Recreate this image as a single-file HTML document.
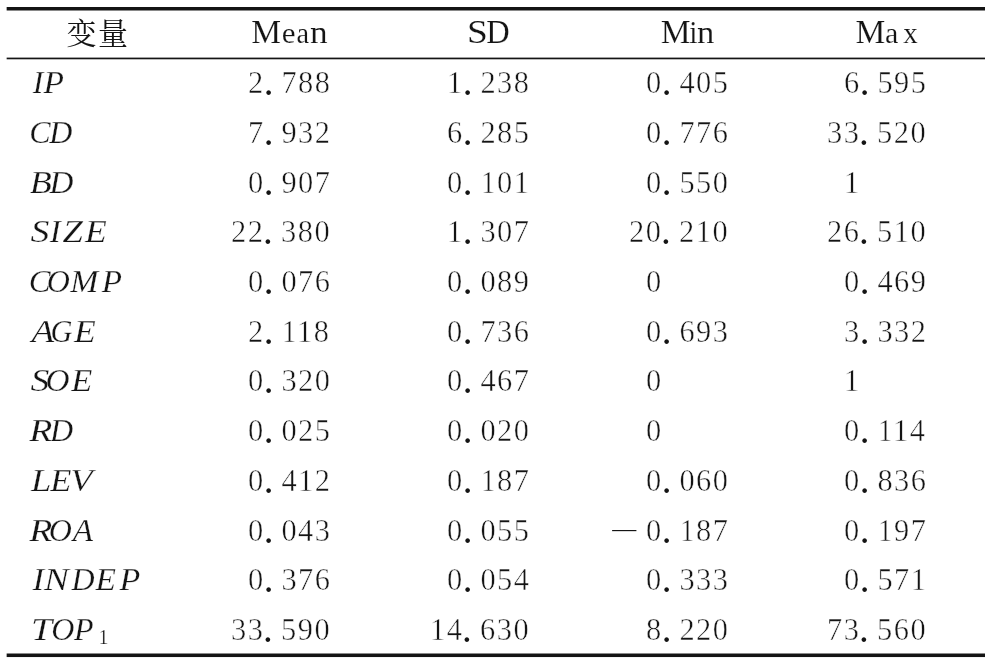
<!DOCTYPE html>
<html lang="zh"><head><meta charset="utf-8"><title>Descriptive statistics</title>
<style>
html,body{margin:0;padding:0;background:#fff;}
body{width:992px;height:672px;position:relative;overflow:hidden;font-family:"Liberation Serif",serif;color:#141414;}
.t{position:absolute;white-space:nowrap;line-height:1;font-size:32px;}
.t span{display:inline-block;}
.v{font-style:italic;-webkit-text-stroke:0.25px #fff;}
.h{-webkit-text-stroke:0.15px #fff;}
.n{letter-spacing:1.58px;transform:scaleX(0.95);transform-origin:0 0;-webkit-text-stroke:0.5px #fff;}
.n span{width:17.58px;letter-spacing:0;text-indent:-0.2px;-webkit-text-stroke:0;transform:translateY(1.2px) scale(1.281);transform-origin:3.8px 25.5px;}
.h{font-size:33.5px;}
.d{font-size:24px;}
.sr{position:absolute;left:70px;top:20px;width:1px;height:1px;overflow:hidden;font-size:1px;line-height:1px;color:transparent;}
.sub{font-size:20px;font-style:normal;position:relative;top:4px;}
svg{position:absolute;left:0;top:0;}
#w{position:absolute;left:0;top:0;width:992px;height:672px;will-change:transform;}
</style></head>
<body>
<div id="w">
<svg width="992" height="672" viewBox="0 0 992 672" aria-hidden="true"><rect x="6.65" y="7" width="978.35" height="3.5" fill="#141414"/><rect x="6.65" y="57.6" width="978.35" height="1.7" fill="#141414"/><rect x="6.65" y="653.5" width="978.35" height="3.55" fill="#141414"/></svg>
<svg width="992" height="672" viewBox="0 0 992 672" role="img" aria-label="变量"><text x="66.5" y="44" font-size="30" letter-spacing="1.6" fill="#141414" font-family="&quot;Liberation Serif&quot;, &quot;Noto Serif CJK SC&quot;, serif">变量</text></svg><span class="sr">变量</span>
<span class="t h" style="left:251.24px;top:14.91px"><span>M</span><span style="margin-left:0.50px;transform:scaleX(1.036);transform-origin:6.72px 50%;font-size:30px">e</span><span style="margin-left:0.68px;transform:scaleX(0.945);transform-origin:6.98px 50%;font-size:30px">a</span><span style="margin-left:2.04px;transform:scaleX(1.138);transform-origin:7.87px 50%;font-size:31px">n</span></span>
<span class="t h" style="left:467.60px;top:14.91px"><span style="transform:scaleX(1.118);transform-origin:9.40px 50%">S</span><span style="margin-left:-0.64px;transform:scaleX(0.969);transform-origin:11.91px 50%">D</span></span>
<span class="t h" style="left:660.74px;top:14.91px"><span>M</span><span style="margin-left:-1.25px;transform:scaleX(0.920);transform-origin:4.48px 50%;font-size:32px">i</span><span style="margin-left:-0.29px;transform:scaleX(1.117);transform-origin:7.87px 50%;font-size:31px">n</span></span>
<span class="t h" style="left:855.44px;top:14.91px"><span>M</span><span style="margin-left:-0.33px;font-size:30px">a</span><span style="margin-left:4.34px;transform:scaleX(0.960);transform-origin:7.45px 50%;font-size:30px">x</span></span>
<span class="t v" style="left:32.71px;top:66.17px"><span>I</span><span style="margin-left:0.45px;transform:scaleX(1.047);transform-origin:9.28px 50%">P</span></span>
<span class="t n" style="left:247.90px;top:66.17px">2<span>.</span>788</span>
<span class="t n" style="left:446.85px;top:66.17px">1<span>.</span>238</span>
<span class="t n" style="left:645.50px;top:66.17px">0<span>.</span>405</span>
<span class="t n" style="left:843.75px;top:66.17px">6<span>.</span>595</span>
<span class="t v" style="left:29.24px;top:116.17px"><span>C</span><span style="margin-left:-1.27px">D</span></span>
<span class="t n" style="left:247.90px;top:116.17px">7<span>.</span>932</span>
<span class="t n" style="left:446.85px;top:116.17px">6<span>.</span>285</span>
<span class="t n" style="left:645.50px;top:116.17px">0<span>.</span>776</span>
<span class="t n" style="left:827.05px;top:116.17px">33<span>.</span>520</span>
<span class="t v" style="left:30.78px;top:166.17px"><span style="transform:scaleX(1.127);transform-origin:9.57px 50%">B</span><span style="margin-left:-0.66px;transform:scaleX(1.035);transform-origin:11.13px 50%">D</span></span>
<span class="t n" style="left:247.90px;top:166.17px">0<span>.</span>907</span>
<span class="t n" style="left:446.85px;top:166.17px">0<span>.</span>101</span>
<span class="t n" style="left:645.50px;top:166.17px">0<span>.</span>550</span>
<span class="t n" style="left:843.75px;top:166.17px">1</span>
<span class="t v" style="left:31.77px;top:215.17px"><span style="transform:scaleX(1.180);transform-origin:7.93px 50%">S</span><span style="margin-left:2.09px;transform:scaleX(1.039);transform-origin:5.89px 50%">I</span><span style="margin-left:3.01px;transform:scaleX(1.149);transform-origin:9.23px 50%">Z</span><span style="margin-left:4.35px;transform:scaleX(1.113);transform-origin:9.33px 50%">E</span></span>
<span class="t n" style="left:231.20px;top:215.17px">22<span>.</span>380</span>
<span class="t n" style="left:446.85px;top:215.17px">1<span>.</span>307</span>
<span class="t n" style="left:628.80px;top:215.17px">20<span>.</span>210</span>
<span class="t n" style="left:827.05px;top:215.17px">26<span>.</span>510</span>
<span class="t v" style="left:28.94px;top:265.17px"><span style="transform:scaleX(1.022);transform-origin:11.71px 50%">C</span><span style="margin-left:-3.57px">O</span><span style="margin-left:1.15px;transform:scaleX(1.056);transform-origin:13.88px 50%">M</span><span style="margin-left:4.19px;transform:scaleX(1.037);transform-origin:9.28px 50%">P</span></span>
<span class="t n" style="left:247.90px;top:265.17px">0<span>.</span>076</span>
<span class="t n" style="left:446.85px;top:265.17px">0<span>.</span>089</span>
<span class="t n" style="left:645.50px;top:265.17px">0</span>
<span class="t n" style="left:843.75px;top:265.17px">0<span>.</span>469</span>
<span class="t v" style="left:32.70px;top:315.17px"><span style="transform:scaleX(1.163);transform-origin:8.95px 50%">A</span><span style="margin-left:-2.34px;transform:scaleX(0.949);transform-origin:12.09px 50%">G</span><span style="margin-left:2.26px;transform:scaleX(1.113);transform-origin:9.33px 50%">E</span></span>
<span class="t n" style="left:247.90px;top:315.17px">2<span>.</span>118</span>
<span class="t n" style="left:446.85px;top:315.17px">0<span>.</span>736</span>
<span class="t n" style="left:645.50px;top:315.17px">0<span>.</span>693</span>
<span class="t n" style="left:843.75px;top:315.17px">3<span>.</span>332</span>
<span class="t v" style="left:31.77px;top:364.17px"><span style="transform:scaleX(1.180);transform-origin:7.93px 50%">S</span><span style="margin-left:-1.35px;transform:scaleX(1.041);transform-origin:11.98px 50%">O</span><span style="margin-left:2.10px;transform:scaleX(1.077);transform-origin:9.33px 50%">E</span></span>
<span class="t n" style="left:247.90px;top:364.17px">0<span>.</span>320</span>
<span class="t n" style="left:446.85px;top:364.17px">0<span>.</span>467</span>
<span class="t n" style="left:645.50px;top:364.17px">0</span>
<span class="t n" style="left:843.75px;top:364.17px">1</span>
<span class="t v" style="left:31.18px;top:414.17px"><span style="transform:scaleX(1.180);transform-origin:9.42px 50%">R</span><span style="margin-left:-0.76px">D</span></span>
<span class="t n" style="left:247.90px;top:414.17px">0<span>.</span>025</span>
<span class="t n" style="left:446.85px;top:414.17px">0<span>.</span>020</span>
<span class="t n" style="left:645.50px;top:414.17px">0</span>
<span class="t n" style="left:843.75px;top:414.17px">0<span>.</span>114</span>
<span class="t v" style="left:32.05px;top:464.17px"><span style="transform:scaleX(1.141);transform-origin:7.95px 50%">L</span><span style="margin-left:0.83px;transform:scaleX(1.082);transform-origin:9.33px 50%">E</span><span style="margin-left:1.43px;transform:scaleX(1.145);transform-origin:12.15px 50%">V</span></span>
<span class="t n" style="left:247.90px;top:464.17px">0<span>.</span>412</span>
<span class="t n" style="left:446.85px;top:464.17px">0<span>.</span>187</span>
<span class="t n" style="left:645.50px;top:464.17px">0<span>.</span>060</span>
<span class="t n" style="left:843.75px;top:464.17px">0<span>.</span>836</span>
<span class="t v" style="left:31.18px;top:514.17px"><span style="transform:scaleX(1.180);transform-origin:9.42px 50%">R</span><span style="margin-left:-2.06px">O</span><span style="margin-left:0.87px;transform:scaleX(1.037);transform-origin:8.95px 50%">A</span></span>
<span class="t n" style="left:247.90px;top:514.17px">0<span>.</span>043</span>
<span class="t n" style="left:446.85px;top:514.17px">0<span>.</span>055</span>
<span class="t d" style="left:612.2px;top:515.88px">—</span>
<span class="t n" style="left:645.50px;top:514.17px">0<span>.</span>187</span>
<span class="t n" style="left:843.75px;top:514.17px">0<span>.</span>197</span>
<span class="t v" style="left:33.16px;top:563.17px"><span style="transform:scaleX(1.089);transform-origin:5.89px 50%">I</span><span style="margin-left:1.94px;transform:scaleX(1.166);transform-origin:11.30px 50%">N</span><span style="margin-left:4.35px">D</span><span style="margin-left:1.67px;transform:scaleX(1.046);transform-origin:9.33px 50%">E</span><span style="margin-left:3.90px;transform:scaleX(1.063);transform-origin:9.28px 50%">P</span></span>
<span class="t n" style="left:247.90px;top:563.17px">0<span>.</span>376</span>
<span class="t n" style="left:446.85px;top:563.17px">0<span>.</span>054</span>
<span class="t n" style="left:645.50px;top:563.17px">0<span>.</span>333</span>
<span class="t n" style="left:843.75px;top:563.17px">0<span>.</span>571</span>
<span class="t v" style="left:32.76px;top:613.17px"><span style="transform:scaleX(1.180);transform-origin:10.89px 50%">T</span><span style="margin-left:0.76px">O</span><span style="margin-left:-0.46px">P</span><span class="sub" style="margin-left:5.08px">1</span></span>
<span class="t n" style="left:231.20px;top:613.17px">33<span>.</span>590</span>
<span class="t n" style="left:430.15px;top:613.17px">14<span>.</span>630</span>
<span class="t n" style="left:645.50px;top:613.17px">8<span>.</span>220</span>
<span class="t n" style="left:827.05px;top:613.17px">73<span>.</span>560</span>
</div>
</body></html>
